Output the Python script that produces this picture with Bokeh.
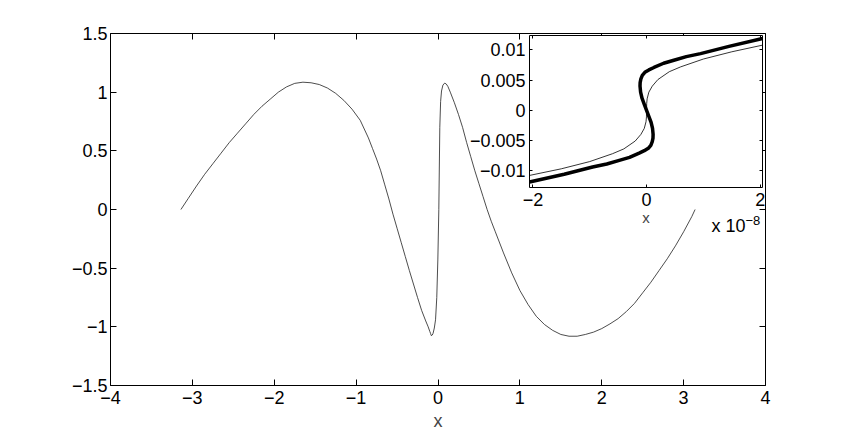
from bokeh.plotting import figure
from bokeh.models import Range1d, LinearAxis, FixedTicker, Label
from bokeh.embed import file_html
from bokeh.resources import INLINE

# ---------------- data ----------------
main_x = [-3.14, -3.05, -2.95, -2.85, -2.75, -2.65, -2.55, -2.45, -2.35, -2.25, -2.15,
          -2.05, -1.95, -1.85, -1.75, -1.65, -1.55, -1.45, -1.35, -1.25, -1.15, -1.05,
          -0.95, -0.85, -0.8, -0.75, -0.7, -0.65, -0.6, -0.55, -0.5, -0.45, -0.4, -0.35,
          -0.3, -0.25, -0.2, -0.15, -0.12, -0.1, -0.09, -0.082, -0.07, -0.06, -0.045,
          -0.03, -0.015, -0.002, 0.01, 0.022, 0.032, 0.043, 0.06, 0.081, 0.1, 0.12,
          0.15, 0.2, 0.25, 0.3, 0.35, 0.4, 0.45, 0.5, 0.55, 0.6, 0.65, 0.7, 0.8, 0.9,
          1.0, 1.1, 1.2, 1.3, 1.4, 1.5, 1.6, 1.7, 1.8, 1.9, 2.0, 2.1, 2.2, 2.3, 2.4,
          2.5, 2.6, 2.7, 2.8, 2.9, 3.0, 3.1, 3.14]
main_y = [0.0, 0.095, 0.20, 0.30, 0.39, 0.48, 0.57, 0.65, 0.73, 0.81, 0.88,
          0.94, 1.00, 1.045, 1.075, 1.085, 1.08, 1.065, 1.035, 0.99, 0.93, 0.855,
          0.76, 0.61, 0.52, 0.43, 0.33, 0.21, 0.09, -0.04, -0.16, -0.28, -0.40, -0.52,
          -0.635, -0.75, -0.86, -0.95, -1.0, -1.04, -1.058, -1.075, -1.07, -1.055, -1.01,
          -0.94, -0.75, -0.43, 0.0, 0.70, 0.92, 1.01, 1.06, 1.077, 1.07, 1.05,
          1.00, 0.91, 0.81, 0.70, 0.57, 0.45, 0.33, 0.22, 0.11, 0.0, -0.10, -0.19, -0.37, -0.54,
          -0.69, -0.81, -0.91, -0.98, -1.03, -1.065, -1.08, -1.08, -1.065, -1.045, -1.015, -0.975,
          -0.93, -0.87, -0.80, -0.71, -0.62, -0.52, -0.42, -0.31, -0.19, -0.06, 0.0]

thin_x = [-2.06, -1.5, -1.0, -0.6, -0.4, -0.2, -0.1, -0.04, -0.01, -0.002, 0.0,
          0.002, 0.01, 0.04, 0.1, 0.2, 0.4, 0.6, 1.0, 1.5, 2.04]
thin_y = [-0.0108, -0.0097, -0.0085, -0.0072, -0.0064, -0.0051, -0.0040, -0.0030, -0.0019,
          -0.0011, 0.0, 0.0011, 0.0019, 0.0030, 0.0040, 0.0051, 0.0064, 0.0072, 0.0085,
          0.0097, 0.0108]

thick_x = [-2.06, -1.45, -0.95, -0.7, -0.48, -0.3, -0.13, -0.04, 0.03, 0.075, 0.1, 0.113,
           0.115, 0.105, 0.08, 0.04, 0.0, -0.04, -0.08, -0.105, -0.115, -0.113, -0.1,
           -0.075, -0.03, 0.04, 0.13, 0.3, 0.48, 0.7, 0.95, 1.45, 2.04]
thick_y = [-0.0119, -0.0106, -0.0094, -0.0089, -0.0083, -0.0078, -0.0071, -0.0067, -0.0063,
           -0.0058, -0.0052, -0.0046, -0.004, -0.003, -0.002, -0.001, 0.0, 0.001, 0.002,
           0.003, 0.004, 0.0046, 0.0052, 0.0058, 0.0063, 0.0067, 0.0071, 0.0078, 0.0083,
           0.0089, 0.0094, 0.0106, 0.0119]

main_xticks = [-4, -3, -2, -1, 0, 1, 2, 3, 4]
main_xlabels = ["\u22124", "\u22123", "\u22122", "\u22121", "0", "1", "2", "3", "4"]
main_yticks = [-1.5, -1.0, -0.5, 0.0, 0.5, 1.0, 1.5]
main_ylabels = ["\u22121.5", "\u22121", "\u22120.5", "0", "0.5", "1", "1.5"]
inset_xticks = [-2, 0, 2]
inset_xlabels = ["\u22122", "0", "2"]
inset_yticks = [-0.01, -0.005, 0.0, 0.005, 0.01]
inset_ylabels = ["\u22120.01", "\u22120.005", "0", "0.005", "0.01"]
scale_text = "x 10"
scale_exp = "\u22128"

FONT = "Liberation Sans"


def style_axis(ax, ticks, labels, size, standoff, tick_in):
    ax.ticker = FixedTicker(ticks=ticks)
    ax.major_label_overrides = {t: l for t, l in zip(ticks, labels)}
    ax.major_label_text_font = FONT
    ax.major_label_text_font_size = size
    ax.major_label_text_color = "black"
    ax.major_label_standoff = standoff
    ax.major_tick_in = tick_in
    ax.major_tick_out = 0
    ax.minor_tick_line_color = None
    ax.axis_line_color = "black"
    ax.major_tick_line_color = "black"


def mirror_axis(p, side, ticks, tick_in):
    ax = LinearAxis(ticker=FixedTicker(ticks=ticks))
    ax.major_label_overrides = {t: "" for t in ticks}
    ax.major_label_text_font_size = "1px"
    ax.major_label_standoff = 0
    ax.major_tick_in = tick_in
    ax.major_tick_out = 0
    ax.minor_tick_line_color = None
    ax.axis_line_color = "black"
    ax.major_tick_line_color = "black"
    p.add_layout(ax, side)


# ---------------- main plot ----------------
p = figure(width=795, height=434, x_range=Range1d(-4, 4), y_range=Range1d(-1.5, 1.5),
           output_backend="svg", toolbar_location=None,
           min_border_left=110, min_border_top=33, min_border_right=30, min_border_bottom=49)
p.grid.visible = False
p.outline_line_color = None
p.background_fill_color = "white"
style_axis(p.xaxis[0], main_xticks, main_xlabels, "18px", 5, 6)
style_axis(p.yaxis[0], main_yticks, main_ylabels, "18px", 3, 6)
p.xaxis.axis_label = "x"
p.xaxis.axis_label_text_font = FONT
p.xaxis.axis_label_text_font_size = "18px"
p.xaxis.axis_label_text_font_style = "normal"
p.xaxis.axis_label_standoff = 4
mirror_axis(p, "above", main_xticks, 6)
mirror_axis(p, "right", main_yticks, 6)
p.line(main_x, main_y, line_color="#202020", line_width=0.8)
p.add_layout(Label(x=3.756, y=-0.230, text=scale_text, text_align="right",
                   text_font=FONT, text_font_size="18px", text_color="black"))
p.add_layout(Label(x=3.756, y=-0.136, text=scale_exp, text_align="left",
                   text_font=FONT, text_font_size="13px", text_color="black"))

# ---------------- inset ----------------
q = figure(width=319, height=204, x_range=Range1d(-2.06, 2.04), y_range=Range1d(-0.0128, 0.0124),
           output_backend="svg", toolbar_location=None,
           min_border_left=80, min_border_top=2, min_border_right=6, min_border_bottom=50,
           styles={"position": "absolute", "left": "449px", "top": "33px"})
q.grid.visible = False
q.outline_line_color = None
q.border_fill_color = None
q.background_fill_color = "white"
style_axis(q.xaxis[0], inset_xticks, inset_xlabels, "18px", 5, 3)
style_axis(q.yaxis[0], inset_yticks, inset_ylabels, "18px", 4, 3)
q.xaxis.axis_label = "x"
q.xaxis.axis_label_text_font = FONT
q.xaxis.axis_label_text_font_size = "15px"
q.xaxis.axis_label_text_font_style = "normal"
q.xaxis.axis_label_standoff = 0
mirror_axis(q, "above", inset_xticks, 3)
mirror_axis(q, "right", inset_yticks, 3)
q.line(thin_x, thin_y, line_color="black", line_width=0.8)
q.line(thick_x, thick_y, line_color="black", line_width=3.5, line_join="round")

open("out.html", "w").write(file_html([p, q], INLINE))
